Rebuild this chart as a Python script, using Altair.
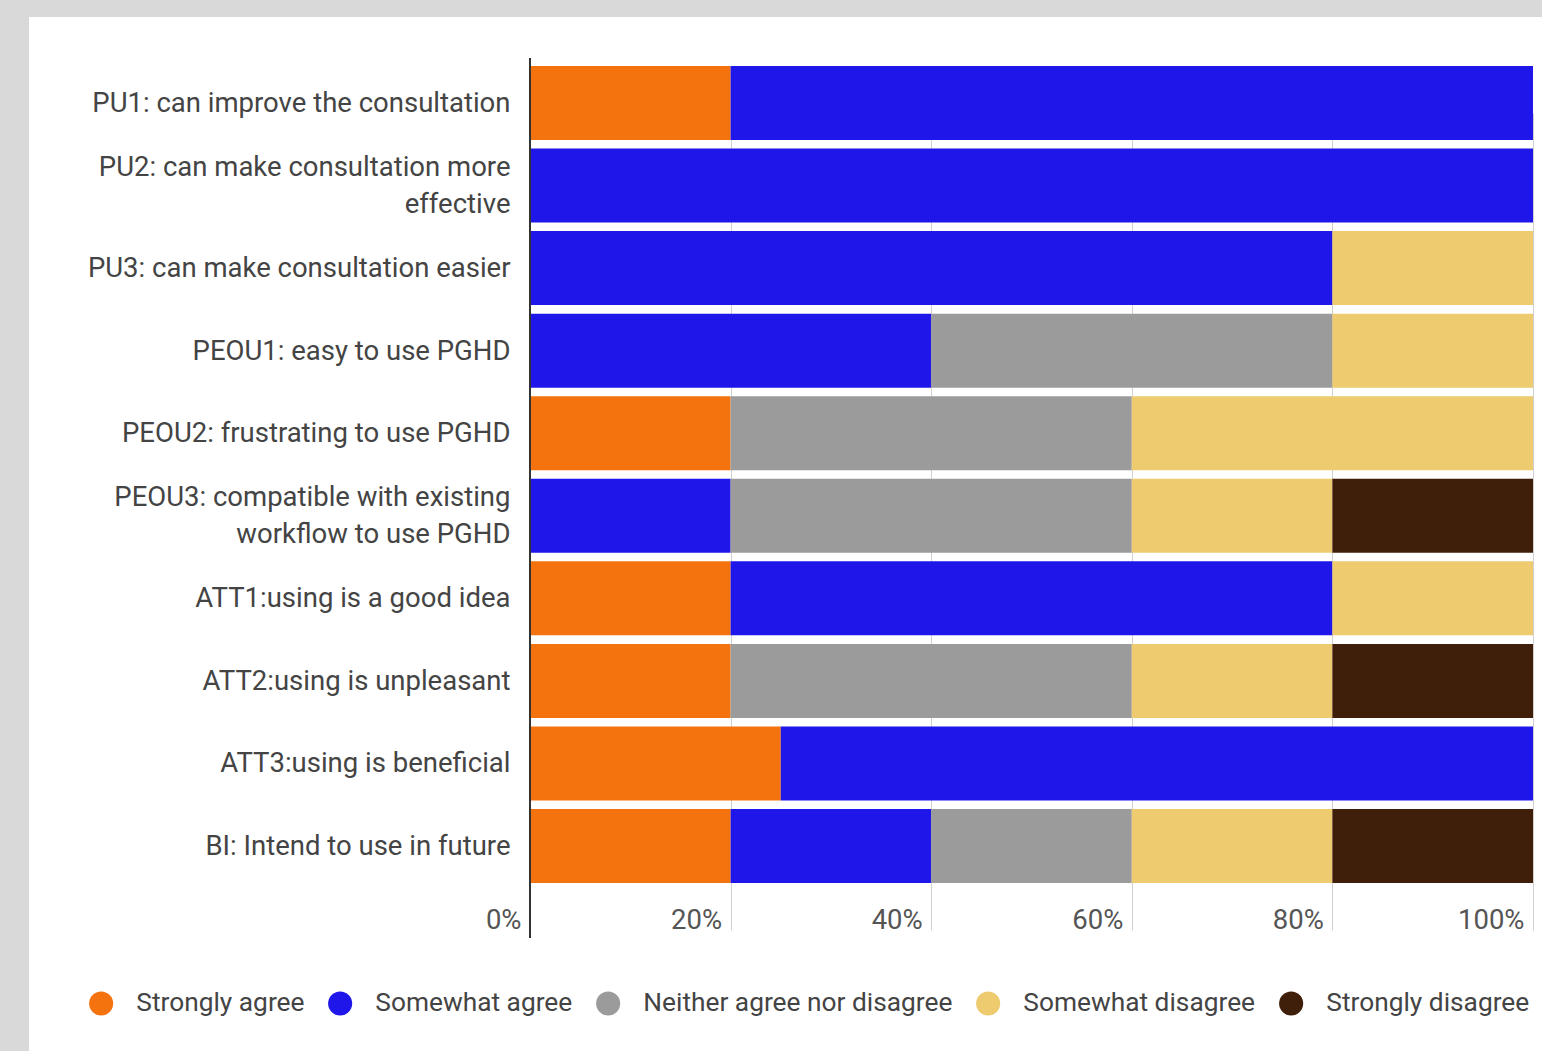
import altair as alt
import pandas as pd

items = [
    "PU1: can improve the consultation",
    "PU2: can make consultation more effective",
    "PU3: can make consultation easier",
    "PEOU1: easy to use PGHD",
    "PEOU2: frustrating to use PGHD",
    "PEOU3: compatible with existing workflow to use PGHD",
    "ATT1:using is a good idea",
    "ATT2:using is unpleasant",
    "ATT3:using is beneficial",
    "BI: Intend to use in future",
]
responses = ["Strongly agree", "Somewhat agree", "Neither agree nor disagree",
             "Somewhat disagree", "Strongly disagree"]
colors = ["#f4730f", "#1f17ea", "#9b9b9b", "#edcb6e", "#401f0a"]

strongly_agree = [0.20, 0.00, 0.00, 0.00, 0.20, 0.00, 0.20, 0.20, 0.25, 0.20]
somewhat_agree = [0.80, 1.00, 0.80, 0.40, 0.00, 0.20, 0.60, 0.00, 0.75, 0.20]
neither = [0.00, 0.00, 0.00, 0.40, 0.40, 0.40, 0.00, 0.40, 0.00, 0.20]
somewhat_disagree = [0.00, 0.00, 0.20, 0.20, 0.40, 0.20, 0.20, 0.20, 0.00, 0.20]
strongly_disagree = [0.00, 0.00, 0.00, 0.00, 0.00, 0.20, 0.00, 0.20, 0.00, 0.20]
x_ticks = [0, 0.2, 0.4, 0.6, 0.8, 1.0]

series = [strongly_agree, somewhat_agree, neither, somewhat_disagree, strongly_disagree]
rows = []
for ri, (resp, vals) in enumerate(zip(responses, series)):
    for item, v in zip(items, vals):
        if v > 0:
            rows.append({"item": item, "response": resp, "value": v, "order": ri})
df = pd.DataFrame(rows)

FONT = "Roboto"
TXT = "#444444"
W, H = 1003, 880

label_expr = (
    "datum.label == 'PU2: can make consultation more effective' ? "
    "['PU2: can make consultation more', 'effective'] : "
    "datum.label == 'PEOU3: compatible with existing workflow to use PGHD' ? "
    "['PEOU3: compatible with existing', 'workflow to use PGHD'] : datum.label"
)
two_line_test = ("datum.value == 'PU2: can make consultation more effective' || "
                 "datum.value == 'PEOU3: compatible with existing workflow to use PGHD'")

bars = alt.Chart(df).mark_bar(size=74).encode(
    x=alt.X("sum(value):Q", stack="zero",
            scale=alt.Scale(domain=[0, 1], nice=False),
            axis=alt.Axis(values=x_ticks, format=".0%", title=None, grid=True,
                          gridColor="#d0d0d0", gridWidth=1, domain=False, ticks=False,
                          labelAlign="right", labelOffset=-9, labelPadding=-18,
                          labelBaseline="middle", labelFont=FONT, labelFontSize=27.5,
                          labelColor="#555555")),
    y=alt.Y("item:N", sort=items,
            scale=alt.Scale(range=[8, 825], paddingInner=0.104, paddingOuter=0),
            axis=alt.Axis(title=None, domain=False, ticks=False, labelPadding=20,
                          labelFont=FONT, labelFontSize=27.5, labelColor=TXT,
                          labelLimit=700, labelLineHeight=37, labelExpr=label_expr,
                          labelOffset={"condition": {"test": two_line_test, "value": -17.5},
                                       "value": 1})),
    color=alt.Color("response:N", sort=responses,
                    scale=alt.Scale(domain=responses, range=colors),
                    legend=alt.Legend(title=None, orient="none", direction="horizontal",
                                      legendX=-442, legendY=932, symbolType="circle",
                                      symbolSize=580, symbolStrokeWidth=0,
                                      labelFont=FONT, labelFontSize=26.3, labelColor=TXT,
                                      labelOffset=22, columnPadding=22, labelLimit=500,
                                      columns=5)),
    order=alt.Order("order:Q"),
)

one = pd.DataFrame({"k": [0]})
axis_line = alt.Chart(one).mark_rule(color="#333333", strokeWidth=2).encode(
    x=alt.value(0), y=alt.value(0), y2=alt.value(H)
)
left_strip = alt.Chart(one).mark_rect(color="#d9d9d9").encode(
    x=alt.value(-530), x2=alt.value(-501), y=alt.value(-58), y2=alt.value(1051 - 58)
)
top_strip = alt.Chart(one).mark_rect(color="#d9d9d9").encode(
    x=alt.value(-530), x2=alt.value(1542 - 530), y=alt.value(-58), y2=alt.value(-41)
)

chart = alt.layer(left_strip, top_strip, bars, axis_line).properties(
    width=W, height=H,
    autosize=alt.AutoSizeParams(type="none"),
    padding={"left": 530, "top": 58, "right": 9, "bottom": 113},
    background="white",
).configure_view(stroke=None)

chart.save("out.html", embed_options={"renderer": "svg", "actions": False})
